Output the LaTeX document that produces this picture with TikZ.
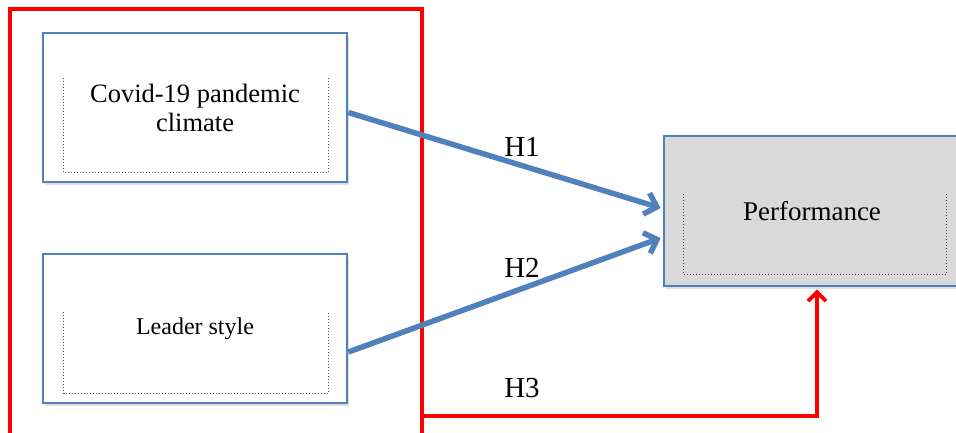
\documentclass[tikz,border=0pt]{standalone}
\usepackage{fontspec}
\setmainfont{Liberation Serif}
\usetikzlibrary{arrows.meta,calc,shadows}
\definecolor{boxblue}{HTML}{4F81BD}
\definecolor{perfgray}{HTML}{D9D9D9}
\begin{document}
\begin{tikzpicture}[x=1pt,y=1pt,
  varbox/.style={draw=boxblue, line width=2.8pt, fill=white, minimum width=304pt, minimum height=149pt, align=center, inner sep=0pt,
    drop shadow={opacity=0.25, shadow xshift=2pt, shadow yshift=-3pt}},
  dotline/.style={draw=black!70, line width=1pt, dotted},
  bluearrow/.style={draw=boxblue, line width=5.5pt, -{Straight Barb[length=11pt, width=22pt]}},
  redarrow/.style={draw=red, line width=3.8pt, -{Straight Barb[length=9pt, width=18pt]}},
  hlabel/.style={font=\fontsize{29}{32}\selectfont, inner sep=0pt},
  boxtext/.style={font=\fontsize{26.5}{29}\selectfont}
]
\useasboundingbox (0,0) rectangle (956,-432);
\fill[white] (0,0) rectangle (956,-432);

% red frame
\draw[red, line width=3.5pt] (10,-445) -- (10,-9) -- (422,-9) -- (422,-445);

% boxes
\node[varbox, boxtext] (b1) at (195,-107.5) {Covid-19 pandemic\\climate};
\node[varbox, font=\fontsize{24}{27}\selectfont] (b2) at (195,-328.5) {Leader style};
\node[varbox, fill=perfgray, minimum width=296pt, minimum height=150pt, font=\fontsize{27}{30}\selectfont] (perf) at (812,-211) {Performance};

% dotted inner frames (left, bottom, right)
\draw[dotline] ($(b1.north west)+(22,-46)$) -- ($(b1.south west)+(22,11)$) -- ($(b1.south east)+(-20,11)$) -- ($(b1.north east)+(-20,-46)$);
\draw[dotline] ($(b2.north west)+(22,-59)$) -- ($(b2.south west)+(22,11)$) -- ($(b2.south east)+(-20,11)$) -- ($(b2.north east)+(-20,-59)$);
\draw[dotline] ($(perf.north west)+(21,-59)$) -- ($(perf.south west)+(21,13)$) -- ($(perf.south west)+(284,13)$) -- ($(perf.north west)+(284,-59)$);

% arrows
\draw[bluearrow] ($(b1.east)+(0,-5)$) -- ($(perf.west)+(-2,3)$);
\draw[bluearrow] ($(b2.east)+(0,-23.5)$) -- ($(perf.west)+(-2,-27)$);
\coordinate (h3start) at (422,-416);
\draw[redarrow] (h3start) -- (817,-416) -- ($(perf.south)+(5,-2)$);

% labels
\node[hlabel] (h1) at (522,-147) {H1};
\node[hlabel] (h2) at (522,-268) {H2};
\node[hlabel] (h3) at (522,-388) {H3};
\end{tikzpicture}
\end{document}
